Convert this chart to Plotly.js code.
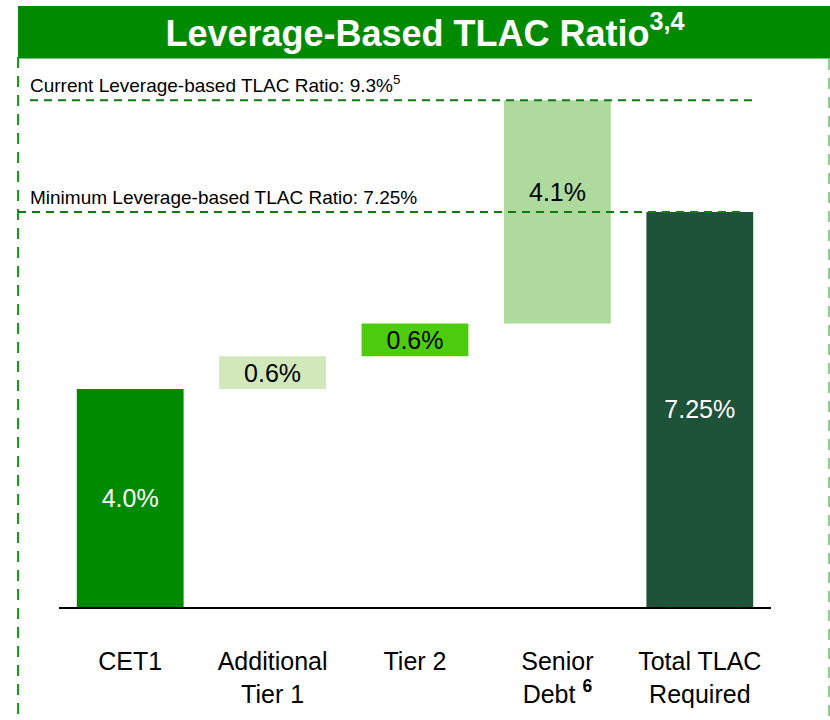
<!DOCTYPE html>
<html>
<head>
<meta charset="utf-8">
<script src="https://cdn.plot.ly/plotly-3.0.1.min.js"></script>
<style>html,body{margin:0;padding:0;background:#fff;}#chart{width:830px;height:720px;}</style>
</head>
<body>
<div id="chart"></div>
<script>
// ---- data ----
var categories = ["CET1", "Additional<br>Tier 1", "Tier 2", "Senior<br>Debt <sup><b>6</b></sup>", "Total TLAC<br>Required"];
var values = [4.0, 0.6, 0.6, 4.1, 7.25];
var isTotal = [false, false, false, false, true];
var barLabels = ["4.0%", "0.6%", "0.6%", "4.1%", "7.25%"];
var currentRatio = 9.3;
var minimumRatio = 7.25;
var currentText = "Current Leverage-based TLAC Ratio: 9.3%<sup>5</sup>";
var minimumText = "Minimum Leverage-based TLAC Ratio: 7.25%";
var titleText = "<b>Leverage-Based TLAC Ratio<sup>3,4</sup></b>";

// ---- style ----
var barColors = ["#008A00", "#D1E8BA", "#4DCC0E", "#AEDA9E", "#1E5239"];
var labelColors = ["#FFFFFF", "#000000", "#000000", "#000000", "#FFFFFF"];
var labelNearTop = [false, false, false, true, false];
var FONT = "Liberation Sans, Arial, sans-serif";

// waterfall bases from cumulative sums
var bases = [];
var run = 0;
for (var i = 0; i < values.length; i++) {
  if (isTotal[i]) { bases.push(0); }
  else { bases.push(run); run += values[i]; }
}

var insideText = barLabels.map(function (t, i) { return labelNearTop[i] ? "" : t; });

var trace = {
  type: "bar",
  x: categories,
  y: values,
  base: bases,
  marker: { color: barColors, line: { width: 0 } },
  text: insideText,
  textposition: "inside",
  insidetextanchor: "middle",
  textangle: 0,
  constraintext: "none",
  textfont: { family: FONT, size: 25, color: labelColors },
  hoverinfo: "skip",
  width: 0.75
};

var L = 59, R = 771, T = 60, B = 607;
function px(x) { return (x - L) / (R - L); }
function py(y) { return (B - y) / (B - T); }

var shapes = [
  { type: "rect", xref: "paper", yref: "paper", x0: px(18), x1: px(831), y0: py(58.5), y1: py(6),
    fillcolor: "#008A00", line: { width: 0 }, layer: "below" },
  { type: "line", xref: "paper", yref: "paper", x0: px(18), x1: px(18), y0: py(57), y1: py(722),
    line: { color: "#12A012", width: 2, dash: "11px,8px" } },
  { type: "line", xref: "paper", yref: "paper", x0: px(829), x1: px(829), y0: py(59), y1: py(722),
    line: { color: "#8FD08F", width: 2, dash: "11px,8px" } },
  { type: "line", xref: "paper", yref: "y", x0: px(30), x1: px(754), y0: currentRatio, y1: currentRatio,
    line: { color: "#137A13", width: 2, dash: "8px,6px" } },
  { type: "line", xref: "paper", yref: "y", x0: px(18), x1: px(741), y0: minimumRatio, y1: minimumRatio,
    line: { color: "#137A13", width: 2, dash: "8px,6px" } }
];

var annotations = [
  { xref: "paper", yref: "y", x: px(28), y: currentRatio, xanchor: "left", yanchor: "bottom", yshift: 2,
    text: currentText, showarrow: false, font: { family: FONT, size: 19, color: "#000" } },
  { xref: "paper", yref: "y", x: px(28), y: minimumRatio, xanchor: "left", yanchor: "bottom", yshift: 2,
    text: minimumText, showarrow: false, font: { family: FONT, size: 19, color: "#000" } }
];
// labels placed near the top of tall floating bars (above the minimum line)
for (var k = 0; k < values.length; k++) {
  if (labelNearTop[k]) {
    annotations.push({ xref: "x", yref: "y", x: categories[k], y: bases[k] + values[k],
      xanchor: "center", yanchor: "top", yshift: -76, text: barLabels[k], showarrow: false,
      font: { family: FONT, size: 25, color: labelColors[k] } });
  }
}

var layout = {
  width: 830, height: 720,
  margin: { l: L, r: 830 - R, t: T, b: 720 - B, pad: 0 },
  paper_bgcolor: "#FFFFFF", plot_bgcolor: "rgba(0,0,0,0)",
  showlegend: false,
  title: { text: titleText, font: { family: FONT, size: 36, color: "#FFFFFF" },
           xref: "container", yref: "container", x: 425 / 830, y: 1 - 33 / 720,
           xanchor: "center", yanchor: "middle" },
  xaxis: { type: "category", categoryorder: "array", categoryarray: categories,
           range: [-0.5, 4.5], showline: true, linecolor: "#000", linewidth: 2,
           showgrid: false, zeroline: false, ticks: "", ticklabelstandoff: 31,
           tickfont: { family: FONT, size: 25, color: "#000" }, fixedrange: true },
  yaxis: { range: [0, (B - T) / 54.5], visible: false, showgrid: false, zeroline: false, fixedrange: true },
  bargap: 0.25,
  shapes: shapes,
  annotations: annotations
};

Plotly.newPlot("chart", [trace], layout, { displayModeBar: false, staticPlot: true });
</script>
</body>
</html>
